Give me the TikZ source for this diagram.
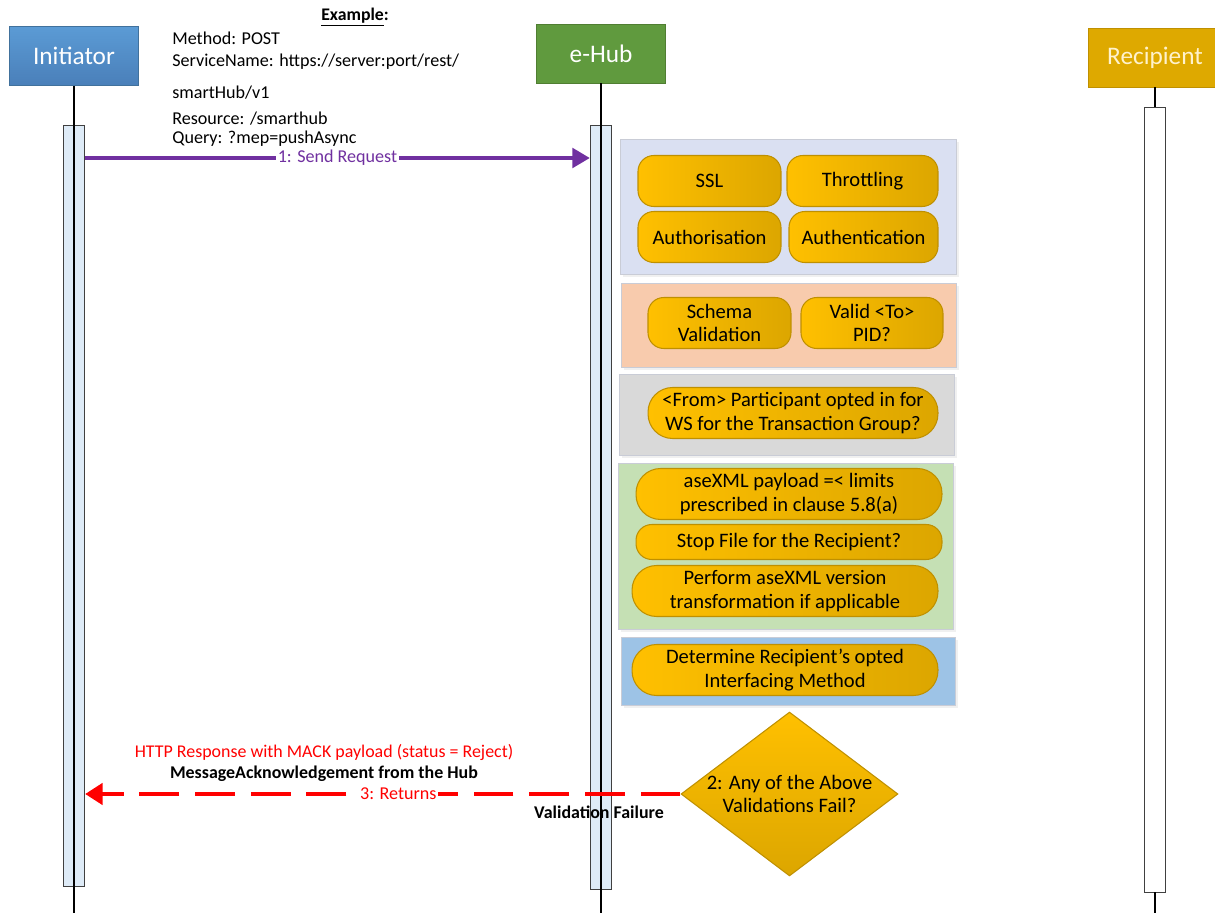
\documentclass[tikz,border=0pt]{standalone}
\usepackage{fontspec}
\setmainfont{Carlito}
\usepackage{tikz}
\usetikzlibrary{calc}
\usetikzlibrary{shapes.geometric}
\usetikzlibrary{arrows.meta}
\usetikzlibrary{shadows}
\definecolor{initblue1}{HTML}{5B9BD5}
\definecolor{initblue2}{HTML}{4A7FB9}
\definecolor{initline}{HTML}{41719C}
\definecolor{hubgreen}{HTML}{609A3E}
\definecolor{hubline}{HTML}{507E32}
\definecolor{recgold}{HTML}{DEA900}
\definecolor{recline}{HTML}{BF9000}
\definecolor{rectext}{HTML}{FFF2CC}
\definecolor{chk1}{HTML}{FFC000}
\definecolor{chk2}{HTML}{DCA600}
\definecolor{chkline}{HTML}{BF9000}
\definecolor{actfill}{HTML}{DEEBF7}
\definecolor{actline}{HTML}{404040}
\definecolor{panA}{HTML}{DAE0F2}
\definecolor{panB}{HTML}{F8CBAD}
\definecolor{panC}{HTML}{D9D9D9}
\definecolor{panD}{HTML}{C5E0B4}
\definecolor{panE}{HTML}{9DC3E6}
\definecolor{panline}{HTML}{C9CCD6}
\definecolor{sendpurple}{HTML}{7030A0}
\definecolor{retred}{HTML}{FF0000}

\begin{document}
\begin{tikzpicture}[x=0.02cm,y=-0.02cm,
            head/.style={draw, minimum width=2.58cm, minimum height=1.18cm, inner sep=0pt, font=\fontsize{14.4}{16}\selectfont},
            act/.style={draw=actline, fill=actfill, minimum width=0.43cm, inner sep=0pt},
            life/.style={black, line width=0.9pt},
            panel/.style={draw=panline, line width=0.4pt, drop shadow={opacity=0.12, shadow xshift=1.5pt, shadow yshift=-1.5pt}},
            chk/.style={draw=chkline, line width=0.6pt, left color=chk1, right color=chk2, rounded corners=9pt, minimum height=1.02cm, inner sep=0pt, align=center, font=\fontsize{11.7}{13.2}\selectfont},
            pill/.style={chk, rounded corners=14pt},
            txt/.style={inner sep=0pt, anchor=west, font=\fontsize{10.3}{12}\selectfont},
            msg/.style={inner sep=0pt, font=\fontsize{10.2}{12}\selectfont}]
            \useasboundingbox (0,0) rectangle (1215,915);
            % participants
            \node[head, top color=initblue1, bottom color=initblue2, draw=initline, text=white] (I) at (74,56) {Initiator};
            \node[head, fill=hubgreen, draw=hubline, text=white] (H) at (601,53.5) {e-Hub};
            \node[head, minimum width=2.68cm, fill=recgold, draw=recline, text=rectext] (R) at (1155,57.5) {Recipient};
            \coordinate (Iend) at (74,913);
            \coordinate (Hend) at (601,913);
            \coordinate (Rend) at (1155,913);
            \node[act, minimum height=15.22cm] (Ia) at (74,505.5) {};
            \node[act, minimum height=15.28cm] (Ha) at (601,507) {};
            \node[act, fill=white, minimum height=15.7cm] (Ra) at (1155,499.5) {};
            \draw[life] (I) -- (Iend);
            \draw[life] (H) -- (Hend);
            \draw[life] (R) -- (Ra.north);
            \draw[life] (Ra.south) -- (Rend);
            % example request
            \node[inner sep=0pt, font=\bfseries\fontsize{10.1}{12}\selectfont] (ex) at (355,17) {\underline{Example}:};
            \node[txt] (meth) at (172,38) {Method: POST};
            \node[txt] (svc) at (172,62) {ServiceName: https://server:port/rest/};
            \node[txt] (svc2) at (172,93) {smartHub/v1};
            \node[txt] (res) at (172,119) {Resource: /smarthub};
            \node[txt] (qry) at (172,139) {Query: ?mep=pushAsync};
            % validation panels
            \draw[panel, fill=panA] (620,139) rectangle (956,274);
            \draw[panel, fill=panB] (621,283) rectangle (956,367);
            \draw[panel, fill=panC] (619,374) rectangle (954,455);
            \draw[panel, fill=panD] (618,463) rectangle (953,629);
            \draw[panel, fill=panE] (621,637) rectangle (955,705);
            \node[chk, minimum width=2.86cm] (ssl) at (709.5,181) {SSL};
            \node[chk, minimum width=3.02cm] (thr) at (862.5,181) {Throttling};
            \node[chk, minimum width=2.86cm] (aut) at (709.5,237) {Authorisation};
            \node[chk, minimum width=2.98cm] (ath) at (863.5,237) {Authentication};
            \node[chk, minimum width=2.86cm] (sch) at (719.5,323) {Schema\\Validation};
            \node[chk, minimum width=2.84cm] (pid) at (872,323) {Valid <To>\\PID?};
            \node[pill, minimum width=5.8cm] (frm) at (793,413) {<From> Participant opted in for\\WS for the Transaction Group?};
            \node[pill, minimum width=6.12cm] (lim) at (789,494) {aseXML payload =< limits\\prescribed in clause 5.8(a)};
            \node[chk, minimum width=6.12cm, minimum height=0.7cm] (stp) at (789,542) {Stop File for the Recipient?};
            \node[pill, minimum width=6.12cm] (trf) at (785,591) {Perform aseXML version\\transformation if applicable};
            \node[pill, minimum width=6.12cm] (ifm) at (785,670) {Determine Recipient’s opted\\Interfacing Method};
            % decision
            \node[diamond, draw=chkline, line width=0.6pt, top color=chk1, bottom color=chk2, minimum width=4.34cm, minimum height=3.28cm, inner sep=0pt] (D) at (789.5,794) {};
            \node[align=center, inner sep=0pt, font=\fontsize{11.7}{13.2}\selectfont] (Dt) at (D) {2: Any of the Above\\Validations Fail?};
            % messages
            \coordinate (S) at (0,158);
            \draw[sendpurple, line width=2.8pt, -{Triangle[length=10pt,width=11pt]}] (Ia.east |- S) -- (Ha.west |- S)
                node[midway, fill=white, inner sep=1pt, text=sendpurple, font=\fontsize{10.3}{12}\selectfont] (snd) {1: Send Request};
            \draw[retred, line width=2.8pt, dash pattern=on 22.7pt off 9pt, -{Triangle[length=10pt,width=12pt]}] (D.west) -- (Ia.east |- D.west)
                node[pos=0.474, fill=white, inner sep=1pt, text=retred, font=\fontsize{10.3}{12}\selectfont] (ret) {3: Returns};
            \node[msg, text=retred] (http) at (324,752) {HTTP Response with MACK payload (status = Reject)};
            \node[msg, font=\bfseries\fontsize{10.2}{12}\selectfont] (mack) at (324,774) {MessageAcknowledgement from the Hub};
            \node[msg, font=\bfseries\fontsize{10.2}{12}\selectfont] (vf) at (599,812) {Validation Failure};
        \end{tikzpicture}
\end{document}
